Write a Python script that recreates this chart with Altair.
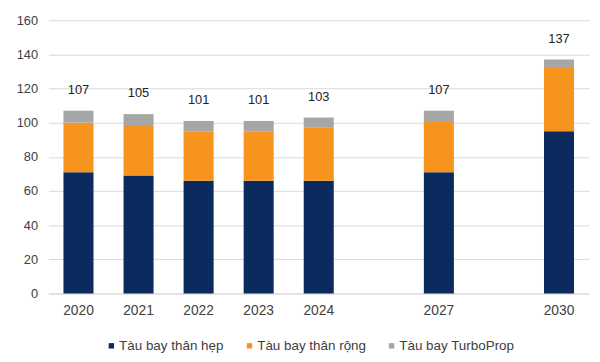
import altair as alt
import pandas as pd

years = ["2020", "2021", "2022", "2023", "2024", "2027", "2030"]
narrow = [71, 69, 66, 66, 66, 71, 95]
wide = [29, 29, 29, 29, 31, 30, 37]
turbo = [7, 7, 6, 6, 6, 6, 5]
totals = [107, 105, 101, 101, 103, 107, 137]
series = ["Tàu bay thân hẹp", "Tàu bay thân rộng", "Tàu bay TurboProp"]
colors = ["#0B2A5E", "#F7941D", "#A6A6A6"]
x_domain = ["2020", "2021", "2022", "2023", "2024", "gap1", "2027", "gap2", "2030"]
y_ticks = [0, 20, 40, 60, 80, 100, 120, 140, 160]

rows = []
for i, y in enumerate(years):
    for k, vals in enumerate([narrow, wide, turbo]):
        rows.append({"year": y, "series": series[k], "idx": k, "value": vals[i]})
df = pd.DataFrame(rows)
tot_df = pd.DataFrame({"year": years, "total": totals})

FONT = "Liberation Sans"

x_scale = alt.Scale(domain=x_domain, paddingInner=0.5, paddingOuter=0.25)
y_scale = alt.Scale(domain=[0, 160], nice=False)

x_axis = alt.Axis(
    title=None,
    labelExpr="indexof(datum.value, 'gap') >= 0 ? '' : datum.value",
    labelAngle=0,
    ticks=False,
    domain=True,
    domainColor="#D9D9D9",
    labelPadding=10,
    labelFontSize=14,
    labelColor="#404040",
    labelFont=FONT,
)
y_axis = alt.Axis(
    title=None,
    values=y_ticks,
    labelOverlap=False,
    ticks=False,
    domain=False,
    gridColor="#D9D9D9",
    labelPadding=11,
    labelFontSize=13,
    labelColor="#404040",
    labelFont=FONT,
)

bars = alt.Chart(df).mark_bar().encode(
    x=alt.X("year:N", scale=x_scale, axis=x_axis),
    y=alt.Y("value:Q", stack="zero", scale=y_scale, axis=y_axis),
    color=alt.Color(
        "series:N",
        scale=alt.Scale(domain=series, range=colors),
        legend=alt.Legend(
            title=None,
            orient="none",
            direction="horizontal",
            legendX=57,
            legendY=323,
            symbolType="square",
            symbolSize=30,
            symbolStrokeWidth=0,
            labelFontSize=13.6,
            labelColor="#404040",
            labelFont=FONT,
            columnPadding=19,
            labelOffset=1,
        ),
    ),
    order=alt.Order("idx:Q"),
)

labels = alt.Chart(tot_df).mark_text(
    dy=-21, fontSize=13, font=FONT, color="#222222"
).encode(
    x=alt.X("year:N", scale=x_scale, axis=x_axis),
    y=alt.Y("total:Q", scale=y_scale, axis=y_axis),
    text=alt.Text("total:Q"),
)

chart = (
    alt.layer(bars, labels)
    .properties(
        width=548,
        height=277,
        autosize=alt.AutoSizeParams(type="none"),
        padding={"left": 41, "top": 10, "right": 3, "bottom": 59},
    )
    .configure_view(stroke=None)
)

chart.save("out.html", embed_options={"renderer": "svg", "actions": False})
